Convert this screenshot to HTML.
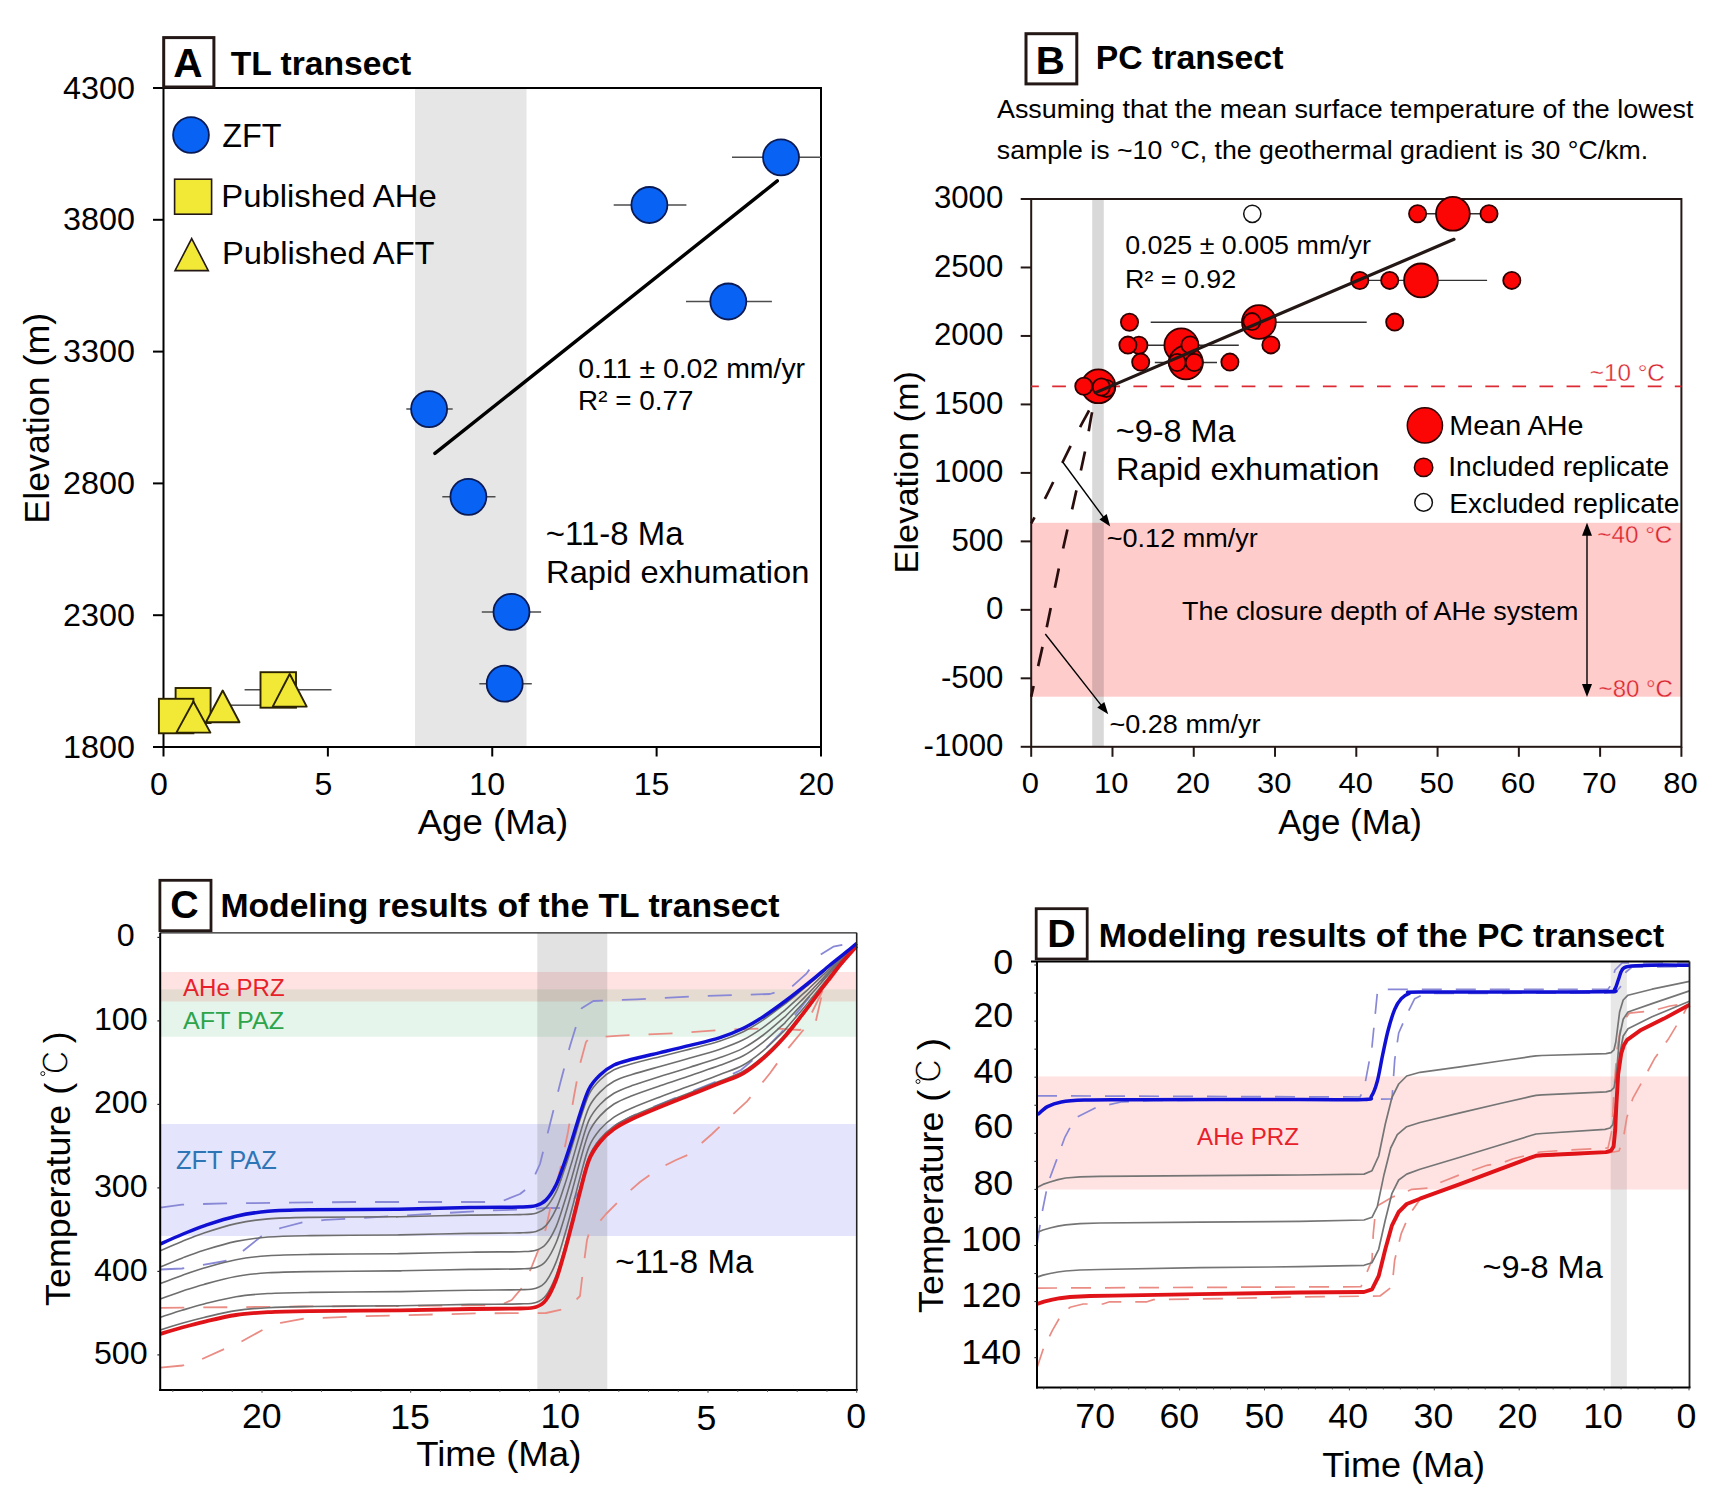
<!DOCTYPE html>
<html><head><meta charset="utf-8"><title>Figure</title>
<style>
html,body{margin:0;padding:0;background:#fff;}
svg{display:block;}
text{font-family:"Liberation Sans",sans-serif;}
</style></head><body>
<svg width="1736" height="1500" viewBox="0 0 1736 1500">
<rect x="0" y="0" width="1736" height="1500" fill="#ffffff"/>
<rect x="415.00" y="88.00" width="111.50" height="659.00" fill="#e6e6e6" stroke="none" stroke-width="1"/>
<rect x="163.50" y="88.00" width="657.50" height="659.00" fill="none" stroke="#000" stroke-width="2"/>
<line x1="153.00" y1="747.00" x2="163.50" y2="747.00" stroke="#000" stroke-width="2"/>
<text transform="translate(63.05,757.60) scale(1.0200,1)" font-size="31.7" fill="#000">1800</text>
<line x1="153.00" y1="615.20" x2="163.50" y2="615.20" stroke="#000" stroke-width="2"/>
<text transform="translate(63.05,625.80) scale(1.0200,1)" font-size="31.7" fill="#000">2300</text>
<line x1="153.00" y1="483.40" x2="163.50" y2="483.40" stroke="#000" stroke-width="2"/>
<text transform="translate(63.05,494.00) scale(1.0200,1)" font-size="31.7" fill="#000">2800</text>
<line x1="153.00" y1="351.60" x2="163.50" y2="351.60" stroke="#000" stroke-width="2"/>
<text transform="translate(63.05,362.20) scale(1.0200,1)" font-size="31.7" fill="#000">3300</text>
<line x1="153.00" y1="219.80" x2="163.50" y2="219.80" stroke="#000" stroke-width="2"/>
<text transform="translate(63.05,230.40) scale(1.0200,1)" font-size="31.7" fill="#000">3800</text>
<line x1="153.00" y1="88.00" x2="163.50" y2="88.00" stroke="#000" stroke-width="2"/>
<text transform="translate(63.05,98.60) scale(1.0200,1)" font-size="31.7" fill="#000">4300</text>
<line x1="163.50" y1="747.00" x2="163.50" y2="756.50" stroke="#000" stroke-width="2"/>
<text transform="translate(150.08,795.20) scale(1.0200,1)" font-size="31.5" fill="#000">0</text>
<line x1="327.88" y1="747.00" x2="327.88" y2="756.50" stroke="#000" stroke-width="2"/>
<text transform="translate(314.46,795.20) scale(1.0200,1)" font-size="31.5" fill="#000">5</text>
<line x1="492.25" y1="747.00" x2="492.25" y2="756.50" stroke="#000" stroke-width="2"/>
<text transform="translate(469.36,795.20) scale(1.0200,1)" font-size="31.5" fill="#000">10</text>
<line x1="656.62" y1="747.00" x2="656.62" y2="756.50" stroke="#000" stroke-width="2"/>
<text transform="translate(633.73,795.20) scale(1.0200,1)" font-size="31.5" fill="#000">15</text>
<line x1="821.00" y1="747.00" x2="821.00" y2="756.50" stroke="#000" stroke-width="2"/>
<text transform="translate(798.51,795.20) scale(1.0200,1)" font-size="31.5" fill="#000">20</text>
<text transform="translate(417.72,833.90) scale(1.0200,1)" font-size="35.87" fill="#000">Age (Ma)</text>
<text transform="translate(49.20,523.66) rotate(-90) scale(1.0200,1)" font-size="35.09" fill="#000">Elevation (m)</text>
<line x1="434.90" y1="453.40" x2="777.30" y2="180.90" stroke="#000" stroke-width="3.4" stroke-linecap="round"/>
<line x1="732.00" y1="157.30" x2="821.00" y2="157.30" stroke="#4d4d4d" stroke-width="1.5"/>
<line x1="613.70" y1="205.00" x2="686.40" y2="205.00" stroke="#4d4d4d" stroke-width="1.5"/>
<line x1="686.00" y1="301.50" x2="771.90" y2="301.50" stroke="#4d4d4d" stroke-width="1.5"/>
<line x1="406.30" y1="409.10" x2="452.70" y2="409.10" stroke="#4d4d4d" stroke-width="1.5"/>
<line x1="442.30" y1="496.80" x2="495.50" y2="496.80" stroke="#4d4d4d" stroke-width="1.5"/>
<line x1="481.80" y1="611.90" x2="541.10" y2="611.90" stroke="#4d4d4d" stroke-width="1.5"/>
<line x1="479.30" y1="683.70" x2="531.80" y2="683.70" stroke="#4d4d4d" stroke-width="1.5"/>
<circle cx="781.00" cy="157.30" r="18.00" fill="#0862f4" stroke="#0a1a55" stroke-width="1.8"/>
<circle cx="649.40" cy="205.00" r="18.00" fill="#0862f4" stroke="#0a1a55" stroke-width="1.8"/>
<circle cx="728.30" cy="301.50" r="18.00" fill="#0862f4" stroke="#0a1a55" stroke-width="1.8"/>
<circle cx="429.10" cy="409.10" r="18.00" fill="#0862f4" stroke="#0a1a55" stroke-width="1.8"/>
<circle cx="468.40" cy="496.80" r="18.00" fill="#0862f4" stroke="#0a1a55" stroke-width="1.8"/>
<circle cx="511.50" cy="611.90" r="18.00" fill="#0862f4" stroke="#0a1a55" stroke-width="1.8"/>
<circle cx="504.70" cy="683.70" r="18.00" fill="#0862f4" stroke="#0a1a55" stroke-width="1.8"/>
<line x1="231.00" y1="705.20" x2="262.00" y2="705.20" stroke="#4d4d4d" stroke-width="1.5"/>
<line x1="244.60" y1="689.70" x2="331.50" y2="689.70" stroke="#4d4d4d" stroke-width="1.5"/>
<rect x="175.60" y="688.00" width="35.00" height="35.00" fill="#f1e936" stroke="#2b2200" stroke-width="1.9"/>
<polygon points="222.70,690.50 239.50,722.30 205.90,722.30" fill="#f1e936" stroke="#2b2200" stroke-width="1.9" stroke-linejoin="round"/>
<rect x="158.90" y="698.80" width="34.50" height="34.50" fill="#f1e936" stroke="#2b2200" stroke-width="1.9"/>
<polygon points="193.40,701.50 210.40,732.60 176.40,732.60" fill="#f1e936" stroke="#2b2200" stroke-width="1.9" stroke-linejoin="round"/>
<rect x="260.50" y="672.20" width="35.50" height="35.50" fill="#f1e936" stroke="#2b2200" stroke-width="1.9"/>
<polygon points="289.70,674.00 306.70,706.60 272.70,706.60" fill="#f1e936" stroke="#2b2200" stroke-width="1.9" stroke-linejoin="round"/>
<circle cx="191.00" cy="135.00" r="17.90" fill="#0862f4" stroke="#0a1a55" stroke-width="1.8"/>
<rect x="174.60" y="179.20" width="37.00" height="35.00" fill="#f1e936" stroke="#231815" stroke-width="1.6"/>
<polygon points="191.70,238.60 208.30,270.60 175.00,270.60" fill="#f1e936" stroke="#231815" stroke-width="1.6"/>
<text transform="translate(222.13,146.70) scale(0.9631,1)" font-size="33.6" fill="#000">ZFT</text>
<text transform="translate(221.37,207.00) scale(1.0201,1)" font-size="32.19" fill="#000">Published AHe</text>
<text transform="translate(221.98,264.20) scale(1.0199,1)" font-size="32.07" fill="#000">Published AFT</text>
<text transform="translate(578.26,377.80) scale(1.0200,1)" font-size="27.89" fill="#000">0.11 ± 0.02 mm/yr</text>
<text transform="translate(578.07,410.20) scale(0.9988,1)" font-size="27.89" fill="#000">R² = 0.77</text>
<text transform="translate(545.82,544.60) scale(1.0199,1)" font-size="32.31" fill="#000">~11-8 Ma</text>
<text transform="translate(546.09,582.60) scale(1.0200,1)" font-size="32.03" fill="#000">Rapid exhumation</text>
<rect x="163.70" y="37.60" width="50.20" height="49.40" fill="#fff" stroke="#231815" stroke-width="3"/>
<text transform="translate(173.19,76.50) scale(1.0200,1)" font-size="39.8" font-weight="bold" fill="#000">A</text>
<text transform="translate(230.66,74.80) scale(1.0199,1)" font-size="32.99" font-weight="bold" fill="#000">TL transect</text>
<rect x="1031.20" y="522.80" width="650.20" height="173.90" fill="#ffcccc" stroke="none" stroke-width="1"/>
<rect x="1092.20" y="199.00" width="11.60" height="547.80" fill="#000" stroke="none" stroke-width="1" fill-opacity="0.15"/>
<rect x="1031.20" y="199.00" width="650.20" height="547.80" fill="none" stroke="#231815" stroke-width="2"/>
<line x1="1020.70" y1="199.00" x2="1031.20" y2="199.00" stroke="#231815" stroke-width="2"/>
<text transform="translate(933.90,208.20) scale(1.0200,1)" font-size="30.6" fill="#000">3000</text>
<line x1="1020.70" y1="267.48" x2="1031.20" y2="267.48" stroke="#231815" stroke-width="2"/>
<text transform="translate(933.90,276.68) scale(1.0200,1)" font-size="30.6" fill="#000">2500</text>
<line x1="1020.70" y1="335.95" x2="1031.20" y2="335.95" stroke="#231815" stroke-width="2"/>
<text transform="translate(933.90,345.15) scale(1.0200,1)" font-size="30.6" fill="#000">2000</text>
<line x1="1020.70" y1="404.42" x2="1031.20" y2="404.42" stroke="#231815" stroke-width="2"/>
<text transform="translate(933.90,413.62) scale(1.0200,1)" font-size="30.6" fill="#000">1500</text>
<line x1="1020.70" y1="472.90" x2="1031.20" y2="472.90" stroke="#231815" stroke-width="2"/>
<text transform="translate(933.90,482.10) scale(1.0200,1)" font-size="30.6" fill="#000">1000</text>
<line x1="1020.70" y1="541.38" x2="1031.20" y2="541.38" stroke="#231815" stroke-width="2"/>
<text transform="translate(951.38,550.58) scale(1.0200,1)" font-size="30.6" fill="#000">500</text>
<line x1="1020.70" y1="609.85" x2="1031.20" y2="609.85" stroke="#231815" stroke-width="2"/>
<text transform="translate(986.03,619.05) scale(1.0200,1)" font-size="30.6" fill="#000">0</text>
<line x1="1020.70" y1="678.32" x2="1031.20" y2="678.32" stroke="#231815" stroke-width="2"/>
<text transform="translate(940.92,687.52) scale(1.0200,1)" font-size="30.6" fill="#000">-500</text>
<line x1="1020.70" y1="746.80" x2="1031.20" y2="746.80" stroke="#231815" stroke-width="2"/>
<text transform="translate(923.60,756.00) scale(1.0200,1)" font-size="30.6" fill="#000">-1000</text>
<line x1="1031.20" y1="746.80" x2="1031.20" y2="756.80" stroke="#231815" stroke-width="2"/>
<text transform="translate(1021.82,792.70) scale(1.0200,1)" font-size="30.3" fill="#000">0</text>
<line x1="1112.48" y1="746.80" x2="1112.48" y2="756.80" stroke="#231815" stroke-width="2"/>
<text transform="translate(1093.98,792.70) scale(1.0200,1)" font-size="30.3" fill="#000">10</text>
<line x1="1193.75" y1="746.80" x2="1193.75" y2="756.80" stroke="#231815" stroke-width="2"/>
<text transform="translate(1175.64,792.70) scale(1.0200,1)" font-size="30.3" fill="#000">20</text>
<line x1="1275.03" y1="746.80" x2="1275.03" y2="756.80" stroke="#231815" stroke-width="2"/>
<text transform="translate(1257.07,792.70) scale(1.0200,1)" font-size="30.3" fill="#000">30</text>
<line x1="1356.30" y1="746.80" x2="1356.30" y2="756.80" stroke="#231815" stroke-width="2"/>
<text transform="translate(1338.58,792.70) scale(1.0200,1)" font-size="30.3" fill="#000">40</text>
<line x1="1437.58" y1="746.80" x2="1437.58" y2="756.80" stroke="#231815" stroke-width="2"/>
<text transform="translate(1419.62,792.70) scale(1.0200,1)" font-size="30.3" fill="#000">50</text>
<line x1="1518.85" y1="746.80" x2="1518.85" y2="756.80" stroke="#231815" stroke-width="2"/>
<text transform="translate(1500.74,792.70) scale(1.0200,1)" font-size="30.3" fill="#000">60</text>
<line x1="1600.12" y1="746.80" x2="1600.12" y2="756.80" stroke="#231815" stroke-width="2"/>
<text transform="translate(1582.02,792.70) scale(1.0200,1)" font-size="30.3" fill="#000">70</text>
<line x1="1681.40" y1="746.80" x2="1681.40" y2="756.80" stroke="#231815" stroke-width="2"/>
<text transform="translate(1663.37,792.70) scale(1.0200,1)" font-size="30.3" fill="#000">80</text>
<text transform="translate(1278.33,833.90) scale(1.0201,1)" font-size="34.22" fill="#000">Age (Ma)</text>
<text transform="translate(917.50,573.45) rotate(-90) scale(1.0200,1)" font-size="33.71" fill="#000">Elevation (m)</text>
<line x1="1031.20" y1="386.40" x2="1681.40" y2="386.40" stroke="#dc2a35" stroke-width="1.7" stroke-dasharray="13.7 13.37" stroke-dashoffset="6.07"/>
<text transform="translate(1589.81,380.70) scale(1.0199,1)" font-size="23.78" fill="#d9262f" stroke="#fff" stroke-width="0.35">~10 °C</text>
<path d="M1096.5,394.0C1095.3,396.7 1092.0,404.4 1089.3,410.0C1086.5,415.6 1084.4,418.6 1080.0,427.3C1075.6,436.0 1068.2,450.7 1062.7,462.0C1057.2,473.3 1052.0,485.1 1046.7,495.3C1041.5,505.5 1033.8,518.6 1031.2,523.3" fill="none" stroke="#2a0e0e" stroke-width="2.7" stroke-dasharray="19 21" stroke-linejoin="round" stroke-dashoffset="-18"/>
<path d="M1097.5,394.0C1096.6,397.1 1094.0,403.4 1092.0,412.7C1090.0,422.0 1088.2,435.8 1085.3,450.0C1082.4,464.2 1078.7,480.2 1074.7,498.0C1070.7,515.8 1066.2,534.0 1061.3,556.7C1056.4,579.4 1050.3,610.7 1045.3,634.0C1040.3,657.3 1033.5,686.2 1031.2,696.7" fill="none" stroke="#2a0e0e" stroke-width="2.7" stroke-dasharray="19.5 20.5" stroke-linejoin="round" stroke-dashoffset="-19"/>
<line x1="1417.00" y1="213.80" x2="1489.00" y2="213.80" stroke="#333" stroke-width="1.4"/>
<line x1="1360.00" y1="280.40" x2="1487.10" y2="280.40" stroke="#333" stroke-width="1.4"/>
<line x1="1150.70" y1="322.20" x2="1366.70" y2="322.20" stroke="#333" stroke-width="1.4"/>
<line x1="1144.40" y1="345.30" x2="1238.80" y2="345.30" stroke="#333" stroke-width="1.4"/>
<line x1="1154.80" y1="362.50" x2="1217.00" y2="362.50" stroke="#333" stroke-width="1.4"/>
<circle cx="1452.90" cy="213.80" r="16.90" fill="#fb0505" stroke="#2e0000" stroke-width="1.8"/>
<circle cx="1421.00" cy="280.40" r="16.90" fill="#fb0505" stroke="#2e0000" stroke-width="1.8"/>
<circle cx="1258.90" cy="322.00" r="16.90" fill="#fb0505" stroke="#2e0000" stroke-width="1.8"/>
<circle cx="1181.30" cy="345.30" r="16.90" fill="#fb0505" stroke="#2e0000" stroke-width="1.8"/>
<circle cx="1185.90" cy="362.50" r="16.90" fill="#fb0505" stroke="#2e0000" stroke-width="1.8"/>
<circle cx="1098.40" cy="386.30" r="16.90" fill="#fb0505" stroke="#2e0000" stroke-width="1.8"/>
<circle cx="1129.50" cy="322.30" r="8.60" fill="#fb0505" stroke="#2e0000" stroke-width="1.8"/>
<circle cx="1138.90" cy="345.20" r="8.60" fill="#fb0505" stroke="#2e0000" stroke-width="1.8"/>
<circle cx="1127.90" cy="345.10" r="8.60" fill="#fb0505" stroke="#2e0000" stroke-width="1.8"/>
<circle cx="1140.70" cy="362.10" r="8.60" fill="#fb0505" stroke="#2e0000" stroke-width="1.8"/>
<circle cx="1190.00" cy="344.90" r="8.60" fill="#fb0505" stroke="#2e0000" stroke-width="1.8"/>
<circle cx="1177.20" cy="362.50" r="8.60" fill="#fb0505" stroke="#2e0000" stroke-width="1.8"/>
<circle cx="1194.20" cy="362.50" r="8.60" fill="#fb0505" stroke="#2e0000" stroke-width="1.8"/>
<circle cx="1229.90" cy="362.10" r="8.60" fill="#fb0505" stroke="#2e0000" stroke-width="1.8"/>
<circle cx="1251.90" cy="321.60" r="8.60" fill="#fb0505" stroke="#2e0000" stroke-width="1.8"/>
<circle cx="1270.90" cy="344.90" r="8.60" fill="#fb0505" stroke="#2e0000" stroke-width="1.8"/>
<circle cx="1359.80" cy="280.50" r="8.60" fill="#fb0505" stroke="#2e0000" stroke-width="1.8"/>
<circle cx="1389.70" cy="280.40" r="8.60" fill="#fb0505" stroke="#2e0000" stroke-width="1.8"/>
<circle cx="1394.70" cy="322.10" r="8.60" fill="#fb0505" stroke="#2e0000" stroke-width="1.8"/>
<circle cx="1417.60" cy="213.80" r="8.60" fill="#fb0505" stroke="#2e0000" stroke-width="1.8"/>
<circle cx="1489.00" cy="213.80" r="8.60" fill="#fb0505" stroke="#2e0000" stroke-width="1.8"/>
<circle cx="1511.80" cy="280.40" r="8.60" fill="#fb0505" stroke="#2e0000" stroke-width="1.8"/>
<circle cx="1083.80" cy="386.30" r="8.60" fill="#fb0505" stroke="#2e0000" stroke-width="1.8"/>
<circle cx="1106.30" cy="388.40" r="8.60" fill="#fb0505" stroke="#2e0000" stroke-width="1.8"/>
<circle cx="1101.30" cy="387.00" r="8.60" fill="#fb0505" stroke="#2e0000" stroke-width="1.8"/>
<circle cx="1252.30" cy="213.80" r="8.60" fill="#fff" stroke="#111" stroke-width="1.5"/>
<line x1="1095.70" y1="392.60" x2="1454.00" y2="239.30" stroke="#231815" stroke-width="3.2" stroke-linecap="round"/>
<line x1="1062.70" y1="462.00" x2="1104.50" y2="518.67" stroke="#000" stroke-width="1.4"/>
<polygon points="1110.20,526.40 1099.46,519.41 1106.70,514.07" fill="#000" stroke="none" stroke-width="0"/>
<line x1="1045.30" y1="634.00" x2="1102.28" y2="706.65" stroke="#000" stroke-width="1.4"/>
<polygon points="1108.20,714.20 1097.25,707.53 1104.34,701.98" fill="#000" stroke="none" stroke-width="0"/>
<line x1="1587.00" y1="610.00" x2="1587.00" y2="533.20" stroke="#000" stroke-width="1.4"/>
<polygon points="1587.00,522.80 1592.00,535.80 1582.00,535.80" fill="#000" stroke="none" stroke-width="0"/>
<line x1="1587.00" y1="610.00" x2="1587.00" y2="686.60" stroke="#000" stroke-width="1.4"/>
<polygon points="1587.00,697.00 1582.00,684.00 1592.00,684.00" fill="#000" stroke="none" stroke-width="0"/>
<text transform="translate(1125.13,254.20) scale(1.0198,1)" font-size="26.31" fill="#000">0.025 ± 0.005 mm/yr</text>
<text transform="translate(1125.05,287.80) scale(1.0200,1)" font-size="26.31" fill="#000">R² = 0.92</text>
<text transform="translate(1115.84,441.80) scale(1.0199,1)" font-size="31.78" fill="#000">~9-8 Ma</text>
<text transform="translate(1116.09,479.80) scale(1.0201,1)" font-size="32.04" fill="#000">Rapid exhumation</text>
<text transform="translate(1106.78,546.80) scale(1.0199,1)" font-size="26.52" fill="#000">~0.12 mm/yr</text>
<text transform="translate(1109.48,732.70) scale(1.0199,1)" font-size="26.52" fill="#000">~0.28 mm/yr</text>
<text transform="translate(1182.03,620.00) scale(1.0199,1)" font-size="26.41" fill="#000">The closure depth of AHe system</text>
<circle cx="1424.90" cy="425.40" r="17.60" fill="#fb0505" stroke="#2a0505" stroke-width="1.5"/>
<circle cx="1423.60" cy="467.40" r="9.20" fill="#fb0505" stroke="#2a0505" stroke-width="1.5"/>
<circle cx="1423.60" cy="502.40" r="8.80" fill="#fff" stroke="#111" stroke-width="1.5"/>
<text transform="translate(1449.30,435.30) scale(1.0201,1)" font-size="28.17" fill="#000">Mean AHe</text>
<text transform="translate(1448.16,475.80) scale(1.0200,1)" font-size="27.68" fill="#000">Included replicate</text>
<text transform="translate(1449.25,513.00) scale(1.0199,1)" font-size="27.63" fill="#000">Excluded replicate</text>
<text transform="translate(1597.31,542.90) scale(1.0199,1)" font-size="23.78" fill="#d9262f" stroke="#ffcccc" stroke-width="0.35">~40 °C</text>
<text transform="translate(1598.62,696.90) scale(1.0200,1)" font-size="23.55" fill="#d9262f" stroke="#ffcccc" stroke-width="0.35">~80 °C</text>
<rect x="1026.00" y="33.70" width="50.80" height="50.20" fill="#fff" stroke="#231815" stroke-width="3"/>
<text transform="translate(1035.78,73.70) scale(1.0199,1)" font-size="39.54" font-weight="bold" fill="#000">B</text>
<text transform="translate(1095.81,68.70) scale(1.0199,1)" font-size="33.1" font-weight="bold" fill="#000">PC transect</text>
<text transform="translate(996.97,117.60) scale(1.0202,1)" font-size="26.37" fill="#000">Assuming that the mean surface temperature of the lowest</text>
<text transform="translate(996.80,158.90) scale(1.0202,1)" font-size="26.18" fill="#000">sample is ~10 °C, the geothermal gradient is 30 °C/km.</text>
<rect x="160.20" y="972.00" width="695.50" height="29.50" fill="#ff0000" stroke="none" stroke-width="1" fill-opacity="0.108"/>
<rect x="160.20" y="989.30" width="695.50" height="47.50" fill="#00a03c" stroke="none" stroke-width="1" fill-opacity="0.10"/>
<rect x="160.20" y="1124.00" width="695.50" height="112.00" fill="#0000e6" stroke="none" stroke-width="1" fill-opacity="0.105"/>
<rect x="537.30" y="932.80" width="70.00" height="457.20" fill="#000" stroke="none" stroke-width="1" fill-opacity="0.115"/>
<path d="M160.3,1207.7L182.0,1204.6L225.0,1203.4L353.0,1202.0L500.0,1202.0L520.0,1194.0L530.0,1186.0L540.0,1164.0L550.0,1124.0L560.0,1084.0L570.0,1046.0L578.0,1020.0L581.7,1008.3L593.3,1001.0L636.7,999.3L703.3,996.0L770.0,994.0L790.0,988.3L806.7,973.3L820.0,955.0L833.3,946.7L850.0,943.3L856.7,935.0" fill="none" stroke="#8888d6" stroke-width="1.8" stroke-dasharray="24 19" stroke-linejoin="round"/>
<path d="M160.3,1269.5L182.0,1268.5L225.3,1261.0L242.4,1251.4L262.6,1235.4L280.8,1228.0L304.2,1222.0L325.0,1219.9L391.7,1216.2L481.2,1210.9L520.0,1209.5L546.0,1208.0L568.0,1208.0L580.0,1190.0L587.0,1163.0L597.0,1143.0L611.0,1128.0L630.0,1117.0L658.0,1105.0L688.0,1093.0L718.0,1081.0L741.0,1070.0L760.0,1054.0L780.0,1034.0L800.0,1009.0L820.0,983.0L838.0,962.0L856.0,944.0" fill="none" stroke="#8888d6" stroke-width="1.8" stroke-dasharray="24 19" stroke-linejoin="round"/>
<path d="M160.3,1307.9L300.0,1306.5L500.0,1305.2L511.7,1300.0L523.0,1286.7L532.0,1266.0L540.0,1246.0L546.0,1228.0L552.0,1200.0L560.0,1170.0L568.0,1132.0L574.0,1096.0L580.0,1064.0L586.0,1042.0L590.0,1037.6L620.0,1035.6L680.0,1033.0L720.0,1030.0L770.0,1028.3L800.0,1030.0L806.7,1026.7L815.0,1025.0L817.0,1016.0L823.0,990.0L840.0,966.0L856.7,946.0" fill="none" stroke="#ea8c84" stroke-width="1.8" stroke-dasharray="24 19" stroke-linejoin="round"/>
<path d="M160.3,1367.6L182.7,1365.5L201.8,1359.1L242.4,1341.0L263.7,1329.3L280.8,1322.9L304.2,1318.6L353.3,1316.5L481.2,1313.3L546.0,1313.0L568.0,1308.0L580.0,1296.0L583.0,1270.0L587.0,1240.0L590.0,1230.0L594.0,1228.0L606.0,1214.0L624.0,1196.0L640.0,1182.0L658.0,1169.0L676.0,1160.0L690.0,1154.0L696.0,1148.0L712.0,1134.0L726.7,1120.0L746.7,1101.7L770.0,1073.3L786.7,1050.0L803.3,1030.0L823.0,990.0L840.0,966.0L856.7,946.0" fill="none" stroke="#ea8c84" stroke-width="1.8" stroke-dasharray="24 19" stroke-linejoin="round"/>
<path d="M160.3,1250.8C163.9,1249.2 174.7,1244.4 182.0,1241.5C189.3,1238.5 195.0,1236.0 204.0,1233.0C213.0,1230.0 225.3,1226.0 236.0,1223.6C246.7,1221.3 255.6,1219.9 268.0,1218.9C280.4,1217.8 289.3,1217.7 310.6,1217.4C331.9,1217.1 381.0,1216.9 395.9,1216.8C410.8,1216.7 387.6,1217.0 400.0,1216.7C412.4,1216.4 450.0,1215.5 470.0,1215.1C490.0,1214.8 509.0,1214.9 520.0,1214.6C531.0,1214.3 531.7,1214.4 536.0,1213.2C540.3,1212.0 542.7,1211.0 546.0,1207.5C549.3,1204.0 553.0,1198.2 556.0,1192.1C559.0,1186.0 561.3,1178.4 564.0,1170.8C566.7,1163.1 569.3,1154.8 572.0,1146.3C574.7,1137.8 577.2,1128.5 580.0,1119.8C582.8,1111.2 585.7,1101.0 589.0,1094.3C592.3,1087.7 595.8,1084.1 600.0,1080.0C604.2,1075.9 608.7,1072.5 614.0,1069.8C619.3,1067.1 624.3,1066.0 632.0,1063.8C639.7,1061.6 650.3,1059.1 660.0,1056.7C669.7,1054.2 680.0,1051.7 690.0,1049.1C700.0,1046.5 711.1,1043.9 720.0,1041.0C728.9,1038.1 736.1,1035.2 743.3,1031.7C750.5,1028.1 756.6,1024.2 763.3,1019.8C770.0,1015.4 779.4,1008.0 783.3,1005.1C787.2,1002.2 783.4,1005.3 786.7,1002.6C790.0,999.9 799.4,992.1 803.3,988.9C807.2,985.7 806.7,986.3 810.0,983.4C813.3,980.5 820.0,974.7 823.3,971.8C826.6,968.9 827.2,968.3 830.0,966.0C832.8,963.6 837.2,959.9 840.0,957.6C842.8,955.3 843.9,954.5 846.7,952.1C849.5,949.8 855.0,944.9 856.7,943.5" fill="none" stroke="#6e6e6e" stroke-width="1.6" stroke-linejoin="round"/>
<path d="M160.3,1267.0C163.9,1265.5 174.7,1261.0 182.0,1258.2C189.3,1255.4 195.0,1253.1 204.0,1250.3C213.0,1247.5 225.3,1243.6 236.0,1241.4C246.7,1239.2 255.6,1238.0 268.0,1237.0C280.4,1236.1 289.3,1236.0 310.6,1235.6C331.9,1235.3 381.0,1235.1 395.9,1235.0C410.8,1234.9 387.6,1235.2 400.0,1234.9C412.4,1234.6 450.0,1233.7 470.0,1233.4C490.0,1233.0 509.0,1233.2 520.0,1232.9C531.0,1232.6 531.7,1232.7 536.0,1231.5C540.3,1230.2 542.7,1229.2 546.0,1225.5C549.3,1221.8 553.0,1215.6 556.0,1209.2C559.0,1202.8 561.3,1194.9 564.0,1187.0C566.7,1179.0 569.3,1170.3 572.0,1161.4C574.7,1152.6 577.2,1142.9 580.0,1133.9C582.8,1124.8 585.7,1114.1 589.0,1107.1C592.3,1100.1 595.8,1096.4 600.0,1092.1C604.2,1087.8 608.7,1084.2 614.0,1081.3C619.3,1078.4 624.3,1077.0 632.0,1074.5C639.7,1072.0 650.3,1069.2 660.0,1066.5C669.7,1063.7 680.0,1060.9 690.0,1058.0C700.0,1055.2 711.1,1052.2 720.0,1049.2C728.9,1046.1 736.1,1043.4 743.3,1039.8C750.5,1036.1 756.6,1032.0 763.3,1027.3C770.0,1022.6 779.4,1014.7 783.3,1011.6C787.2,1008.5 783.4,1011.7 786.7,1008.7C790.0,1005.7 799.4,997.2 803.3,993.7C807.2,990.1 806.7,990.6 810.0,987.5C813.3,984.3 820.0,977.9 823.3,974.7C826.6,971.5 827.2,970.9 830.0,968.3C832.8,965.7 837.2,961.6 840.0,959.1C842.8,956.5 843.9,955.7 846.7,953.1C849.5,950.6 855.0,945.5 856.7,944.0" fill="none" stroke="#6e6e6e" stroke-width="1.6" stroke-linejoin="round"/>
<path d="M160.3,1283.6C163.9,1282.2 174.7,1278.0 182.0,1275.4C189.3,1272.8 195.0,1270.7 204.0,1268.0C213.0,1265.4 225.3,1261.7 236.0,1259.7C246.7,1257.6 255.6,1256.6 268.0,1255.7C280.4,1254.8 289.3,1254.7 310.6,1254.4C331.9,1254.0 381.0,1253.8 395.9,1253.7C410.8,1253.6 387.6,1253.9 400.0,1253.6C412.4,1253.4 450.0,1252.5 470.0,1252.2C490.0,1251.8 509.0,1252.0 520.0,1251.7C531.0,1251.3 531.7,1251.5 536.0,1250.2C540.3,1248.9 542.7,1247.9 546.0,1244.0C549.3,1240.1 553.0,1233.5 556.0,1226.8C559.0,1220.1 561.3,1211.9 564.0,1203.6C566.7,1195.3 569.3,1186.2 572.0,1177.0C574.7,1167.7 577.2,1157.8 580.0,1148.3C582.8,1138.9 585.7,1127.5 589.0,1120.2C592.3,1112.9 595.8,1109.0 600.0,1104.5C604.2,1100.0 608.7,1096.3 614.0,1093.2C619.3,1090.0 624.3,1088.3 632.0,1085.6C639.7,1082.8 650.3,1079.6 660.0,1076.5C669.7,1073.5 680.0,1070.4 690.0,1067.2C700.0,1064.1 711.1,1060.8 720.0,1057.6C728.9,1054.4 736.1,1051.9 743.3,1048.1C750.5,1044.3 756.6,1040.0 763.3,1035.0C770.0,1030.0 779.4,1021.5 783.3,1018.2C787.2,1014.9 783.4,1018.3 786.7,1015.0C790.0,1011.7 799.4,1002.4 803.3,998.6C807.2,994.7 806.7,995.2 810.0,991.7C813.3,988.2 820.0,981.2 823.3,977.7C826.6,974.2 827.2,973.6 830.0,970.7C832.8,967.9 837.2,963.3 840.0,960.5C842.8,957.8 843.9,956.9 846.7,954.2C849.5,951.5 855.0,946.1 856.7,944.5" fill="none" stroke="#6e6e6e" stroke-width="1.6" stroke-linejoin="round"/>
<path d="M160.3,1298.9C163.9,1297.6 174.7,1293.7 182.0,1291.2C189.3,1288.8 195.0,1286.8 204.0,1284.4C213.0,1281.9 225.3,1278.4 236.0,1276.5C246.7,1274.5 255.6,1273.7 268.0,1272.8C280.4,1272.0 289.3,1271.9 310.6,1271.6C331.9,1271.3 381.0,1271.0 395.9,1270.9C410.8,1270.8 387.6,1271.1 400.0,1270.8C412.4,1270.6 450.0,1269.7 470.0,1269.4C490.0,1269.1 509.0,1269.2 520.0,1268.9C531.0,1268.6 531.7,1268.8 536.0,1267.5C540.3,1266.1 542.7,1265.1 546.0,1261.0C549.3,1256.9 553.0,1250.0 556.0,1243.0C559.0,1235.9 561.3,1227.5 564.0,1218.9C566.7,1210.3 569.3,1200.8 572.0,1191.2C574.7,1181.7 577.2,1171.4 580.0,1161.6C582.8,1151.8 585.7,1139.9 589.0,1132.3C592.3,1124.7 595.8,1120.6 600.0,1115.9C604.2,1111.2 608.7,1107.4 614.0,1104.0C619.3,1100.7 624.3,1098.8 632.0,1095.7C639.7,1092.7 650.3,1089.1 660.0,1085.8C669.7,1082.4 680.0,1079.1 690.0,1075.7C700.0,1072.2 711.1,1068.6 720.0,1065.3C728.9,1062.0 736.1,1059.6 743.3,1055.8C750.5,1051.9 756.6,1047.3 763.3,1042.1C770.0,1036.8 779.4,1027.9 783.3,1024.3C787.2,1020.8 783.4,1024.3 786.7,1020.8C790.0,1017.2 799.4,1007.2 803.3,1003.0C807.2,998.8 806.7,999.3 810.0,995.5C813.3,991.8 820.0,984.2 823.3,980.4C826.6,976.6 827.2,976.0 830.0,972.9C832.8,969.8 837.2,964.9 840.0,961.9C842.8,958.9 843.9,958.0 846.7,955.2C849.5,952.3 855.0,946.6 856.7,944.9" fill="none" stroke="#6e6e6e" stroke-width="1.6" stroke-linejoin="round"/>
<path d="M160.3,1317.3C163.9,1316.2 174.7,1312.5 182.0,1310.3C189.3,1308.1 195.0,1306.3 204.0,1304.0C213.0,1301.8 225.3,1298.5 236.0,1296.7C246.7,1295.0 255.6,1294.3 268.0,1293.5C280.4,1292.8 289.3,1292.7 310.6,1292.4C331.9,1292.0 381.0,1291.8 395.9,1291.6C410.8,1291.5 387.6,1291.8 400.0,1291.6C412.4,1291.3 450.0,1290.5 470.0,1290.2C490.0,1289.9 509.0,1290.1 520.0,1289.7C531.0,1289.4 531.7,1289.6 536.0,1288.2C540.3,1286.9 542.7,1285.8 546.0,1281.5C549.3,1277.2 553.0,1269.8 556.0,1262.4C559.0,1255.1 561.3,1246.3 564.0,1237.3C566.7,1228.4 569.3,1218.4 572.0,1208.5C574.7,1198.5 577.2,1187.8 580.0,1177.6C582.8,1167.3 585.7,1154.9 589.0,1146.9C592.3,1138.9 595.8,1134.6 600.0,1129.6C604.2,1124.7 608.7,1120.8 614.0,1117.2C619.3,1113.6 624.3,1111.3 632.0,1108.0C639.7,1104.6 650.3,1100.6 660.0,1096.9C669.7,1093.2 680.0,1089.5 690.0,1085.8C700.0,1082.1 711.1,1078.1 720.0,1074.6C728.9,1071.1 736.1,1069.0 743.3,1065.0C750.5,1061.0 756.6,1056.2 763.3,1050.6C770.0,1045.1 779.4,1035.5 783.3,1031.7C787.2,1027.9 783.4,1031.6 786.7,1027.8C790.0,1023.9 799.4,1013.0 803.3,1008.4C807.2,1003.8 806.7,1004.3 810.0,1000.2C813.3,996.1 820.0,987.8 823.3,983.7C826.6,979.6 827.2,979.0 830.0,975.6C832.8,972.2 837.2,966.7 840.0,963.5C842.8,960.3 843.9,959.3 846.7,956.3C849.5,953.3 855.0,947.3 856.7,945.5" fill="none" stroke="#6e6e6e" stroke-width="1.6" stroke-linejoin="round"/>
<path d="M160.3,1330.0C163.9,1328.8 174.7,1325.4 182.0,1323.3C189.3,1321.2 195.0,1319.6 204.0,1317.5C213.0,1315.4 225.3,1312.2 236.0,1310.6C246.7,1308.9 255.6,1308.3 268.0,1307.7C280.4,1307.0 289.3,1306.9 310.6,1306.5C331.9,1306.2 381.0,1305.9 395.9,1305.8C410.8,1305.7 387.6,1306.0 400.0,1305.7C412.4,1305.5 450.0,1304.7 470.0,1304.4C490.0,1304.1 509.0,1304.3 520.0,1303.9C531.0,1303.6 531.7,1303.8 536.0,1302.4C540.3,1301.0 542.7,1300.0 546.0,1295.5C549.3,1291.0 553.0,1283.3 556.0,1275.7C559.0,1268.1 561.3,1259.2 564.0,1250.0C566.7,1240.7 569.3,1230.5 572.0,1220.2C574.7,1210.0 577.2,1199.1 580.0,1188.5C582.8,1177.9 585.7,1165.1 589.0,1156.8C592.3,1148.6 595.8,1144.1 600.0,1139.0C604.2,1133.9 608.7,1129.9 614.0,1126.1C619.3,1122.3 624.3,1119.9 632.0,1116.3C639.7,1112.7 650.3,1108.5 660.0,1104.6C669.7,1100.6 680.0,1096.7 690.0,1092.8C700.0,1088.8 711.1,1084.5 720.0,1081.0C728.9,1077.4 736.1,1075.4 743.3,1071.3C750.5,1067.2 756.6,1062.2 763.3,1056.4C770.0,1050.7 779.4,1040.7 783.3,1036.7C787.2,1032.7 783.4,1036.6 786.7,1032.5C790.0,1028.4 799.4,1017.0 803.3,1012.1C807.2,1007.3 806.7,1007.7 810.0,1003.4C813.3,999.0 820.0,990.3 823.3,986.0C826.6,981.6 827.2,981.0 830.0,977.4C832.8,973.9 837.2,968.0 840.0,964.6C842.8,961.3 843.9,960.2 846.7,957.1C849.5,954.0 855.0,947.8 856.7,945.9" fill="none" stroke="#6e6e6e" stroke-width="1.6" stroke-linejoin="round"/>
<path d="M160.3,1334.0C163.9,1332.9 174.7,1329.5 182.0,1327.5C189.3,1325.5 195.0,1323.9 204.0,1321.8C213.0,1319.7 225.3,1316.6 236.0,1315.0C246.7,1313.4 255.6,1312.9 268.0,1312.2C280.4,1311.5 288.6,1311.4 310.6,1311.1C332.6,1310.8 373.4,1310.6 400.0,1310.3C426.6,1310.0 450.0,1309.3 470.0,1309.0C490.0,1308.7 509.0,1308.8 520.0,1308.5C531.0,1308.2 531.7,1308.4 536.0,1307.0C540.3,1305.6 542.7,1304.5 546.0,1300.0C549.3,1295.5 553.0,1287.7 556.0,1280.0C559.0,1272.3 561.3,1263.3 564.0,1254.0C566.7,1244.7 569.3,1234.3 572.0,1224.0C574.7,1213.7 577.2,1202.7 580.0,1192.0C582.8,1181.3 585.7,1168.3 589.0,1160.0C592.3,1151.7 595.8,1147.2 600.0,1142.0C604.2,1136.8 608.7,1132.8 614.0,1129.0C619.3,1125.2 624.3,1122.7 632.0,1119.0C639.7,1115.3 650.3,1111.0 660.0,1107.0C669.7,1103.0 680.0,1099.0 690.0,1095.0C700.0,1091.0 711.1,1086.6 720.0,1083.0C728.9,1079.4 736.1,1077.4 743.3,1073.3C750.5,1069.2 756.6,1064.1 763.3,1058.3C770.0,1052.5 776.6,1045.8 783.3,1038.3C790.0,1030.8 796.6,1021.9 803.3,1013.3C810.0,1004.7 817.2,994.8 823.3,986.7C829.4,978.7 834.4,971.8 840.0,965.0C845.6,958.2 853.9,949.2 856.7,946.0" fill="none" stroke="#e01418" stroke-width="3.8" stroke-linejoin="round"/>
<path d="M160.3,1244.0C163.9,1242.4 174.7,1237.5 182.0,1234.5C189.3,1231.5 195.0,1228.8 204.0,1225.8C213.0,1222.8 225.3,1218.6 236.0,1216.2C246.7,1213.8 255.6,1212.4 268.0,1211.3C280.4,1210.2 289.3,1210.1 310.6,1209.8C331.9,1209.5 369.3,1209.6 395.9,1209.2C422.5,1208.8 449.3,1207.9 470.0,1207.5C490.7,1207.1 509.0,1207.3 520.0,1207.0C531.0,1206.7 531.7,1206.8 536.0,1205.6C540.3,1204.4 542.7,1203.4 546.0,1200.0C549.3,1196.6 553.0,1191.0 556.0,1185.0C559.0,1179.0 561.3,1171.5 564.0,1164.0C566.7,1156.5 569.3,1148.3 572.0,1140.0C574.7,1131.7 577.2,1122.5 580.0,1114.0C582.8,1105.5 585.7,1095.5 589.0,1089.0C592.3,1082.5 595.8,1079.0 600.0,1075.0C604.2,1071.0 608.7,1067.6 614.0,1065.0C619.3,1062.4 624.3,1061.4 632.0,1059.3C639.7,1057.2 650.3,1054.9 660.0,1052.6C669.7,1050.3 680.0,1047.9 690.0,1045.4C700.0,1042.9 711.1,1040.4 720.0,1037.6C728.9,1034.8 736.1,1031.8 743.3,1028.3C750.5,1024.8 756.1,1021.4 763.3,1016.7C770.5,1012.0 778.9,1005.8 786.7,1000.0C794.5,994.2 802.8,987.5 810.0,981.7C817.2,975.9 823.9,970.0 830.0,965.0C836.1,960.0 842.2,955.3 846.7,951.7C851.2,948.1 855.0,944.7 856.7,943.3" fill="none" stroke="#1010d4" stroke-width="3.5" stroke-linejoin="round"/>
<line x1="160.20" y1="932.80" x2="856.70" y2="932.80" stroke="#222" stroke-width="1.2"/>
<line x1="856.70" y1="932.80" x2="856.70" y2="1390.00" stroke="#222" stroke-width="1.6"/>
<line x1="160.20" y1="932.80" x2="160.20" y2="1391.00" stroke="#000" stroke-width="2"/>
<line x1="159.20" y1="1390.00" x2="857.70" y2="1390.00" stroke="#000" stroke-width="2"/>
<line x1="157.40" y1="937.40" x2="160.20" y2="937.40" stroke="#222" stroke-width="1.2"/>
<line x1="157.40" y1="1020.90" x2="160.20" y2="1020.90" stroke="#222" stroke-width="1.2"/>
<line x1="157.40" y1="1104.40" x2="160.20" y2="1104.40" stroke="#222" stroke-width="1.2"/>
<line x1="157.40" y1="1187.90" x2="160.20" y2="1187.90" stroke="#222" stroke-width="1.2"/>
<line x1="157.40" y1="1271.40" x2="160.20" y2="1271.40" stroke="#222" stroke-width="1.2"/>
<line x1="157.40" y1="1354.90" x2="160.20" y2="1354.90" stroke="#222" stroke-width="1.2"/>
<line x1="856.70" y1="1390.00" x2="856.70" y2="1392.80" stroke="#444" stroke-width="1.0"/>
<line x1="826.97" y1="1390.00" x2="826.97" y2="1391.80" stroke="#444" stroke-width="1.0"/>
<line x1="797.23" y1="1390.00" x2="797.23" y2="1391.80" stroke="#444" stroke-width="1.0"/>
<line x1="767.50" y1="1390.00" x2="767.50" y2="1391.80" stroke="#444" stroke-width="1.0"/>
<line x1="737.76" y1="1390.00" x2="737.76" y2="1391.80" stroke="#444" stroke-width="1.0"/>
<line x1="708.03" y1="1390.00" x2="708.03" y2="1392.80" stroke="#444" stroke-width="1.0"/>
<line x1="678.29" y1="1390.00" x2="678.29" y2="1391.80" stroke="#444" stroke-width="1.0"/>
<line x1="648.56" y1="1390.00" x2="648.56" y2="1391.80" stroke="#444" stroke-width="1.0"/>
<line x1="618.82" y1="1390.00" x2="618.82" y2="1391.80" stroke="#444" stroke-width="1.0"/>
<line x1="589.09" y1="1390.00" x2="589.09" y2="1391.80" stroke="#444" stroke-width="1.0"/>
<line x1="559.35" y1="1390.00" x2="559.35" y2="1392.80" stroke="#444" stroke-width="1.0"/>
<line x1="529.62" y1="1390.00" x2="529.62" y2="1391.80" stroke="#444" stroke-width="1.0"/>
<line x1="499.88" y1="1390.00" x2="499.88" y2="1391.80" stroke="#444" stroke-width="1.0"/>
<line x1="470.15" y1="1390.00" x2="470.15" y2="1391.80" stroke="#444" stroke-width="1.0"/>
<line x1="440.41" y1="1390.00" x2="440.41" y2="1391.80" stroke="#444" stroke-width="1.0"/>
<line x1="410.68" y1="1390.00" x2="410.68" y2="1392.80" stroke="#444" stroke-width="1.0"/>
<line x1="380.94" y1="1390.00" x2="380.94" y2="1391.80" stroke="#444" stroke-width="1.0"/>
<line x1="351.21" y1="1390.00" x2="351.21" y2="1391.80" stroke="#444" stroke-width="1.0"/>
<line x1="321.47" y1="1390.00" x2="321.47" y2="1391.80" stroke="#444" stroke-width="1.0"/>
<line x1="291.74" y1="1390.00" x2="291.74" y2="1391.80" stroke="#444" stroke-width="1.0"/>
<line x1="262.00" y1="1390.00" x2="262.00" y2="1392.80" stroke="#444" stroke-width="1.0"/>
<line x1="232.27" y1="1390.00" x2="232.27" y2="1391.80" stroke="#444" stroke-width="1.0"/>
<line x1="202.53" y1="1390.00" x2="202.53" y2="1391.80" stroke="#444" stroke-width="1.0"/>
<line x1="172.80" y1="1390.00" x2="172.80" y2="1391.80" stroke="#444" stroke-width="1.0"/>
<text transform="translate(116.80,946.30) scale(1.0200,1)" font-size="31.6" fill="#000">0</text>
<text transform="translate(93.92,1029.85) scale(1.0200,1)" font-size="31.6" fill="#000">100</text>
<text transform="translate(93.92,1113.40) scale(1.0200,1)" font-size="31.6" fill="#000">200</text>
<text transform="translate(93.92,1196.95) scale(1.0200,1)" font-size="31.6" fill="#000">300</text>
<text transform="translate(93.92,1280.50) scale(1.0200,1)" font-size="31.6" fill="#000">400</text>
<text transform="translate(93.92,1364.05) scale(1.0200,1)" font-size="31.6" fill="#000">500</text>
<text transform="translate(241.91,1428.40) scale(1.0200,1)" font-size="35" fill="#000">20</text>
<text transform="translate(390.16,1428.80) scale(1.0200,1)" font-size="35" fill="#000">15</text>
<text transform="translate(540.46,1427.90) scale(1.0200,1)" font-size="35" fill="#000">10</text>
<text transform="translate(696.39,1429.60) scale(1.0200,1)" font-size="35" fill="#000">5</text>
<text transform="translate(846.19,1427.50) scale(1.0200,1)" font-size="35" fill="#000">0</text>
<text transform="translate(416.19,1465.90) scale(1.0200,1)" font-size="35.83" fill="#000">Time (Ma)</text>
<text transform="translate(70.00,1305.90) rotate(-90) scale(1.0200,1)" font-size="35.13" fill="#000">Temperature (</text>
<text transform="translate(68.30,1074.22) rotate(-90) scale(0.8995,1)" font-size="36" fill="#000" stroke="#fff" stroke-width="1.1">C</text>
<circle cx="42.8" cy="1073.6" r="2.0" fill="none" stroke="#000" stroke-width="0.9"/>
<text transform="translate(68.50,1043.15) rotate(-90) scale(1.0200,1)" font-size="34.69" fill="#000">)</text>
<text transform="translate(183.08,996.30) scale(1.0200,1)" font-size="23.59" fill="#e8202a">AHe PRZ</text>
<text transform="translate(183.07,1029.20) scale(1.0201,1)" font-size="24.65" fill="#2da44a">AFT PAZ</text>
<text transform="translate(175.94,1168.70) scale(1.0199,1)" font-size="24.99" fill="#2e75b6">ZFT PAZ</text>
<text transform="translate(615.21,1273.30) scale(1.0199,1)" font-size="32.43" fill="#000">~11-8 Ma</text>
<rect x="159.90" y="880.30" width="51.10" height="50.40" fill="#fff" stroke="#231815" stroke-width="2.8"/>
<text transform="translate(170.32,917.70) scale(1.0199,1)" font-size="38.62" font-weight="bold" fill="#000">C</text>
<text transform="translate(220.41,916.90) scale(1.0200,1)" font-size="33.03" font-weight="bold" fill="#000">Modeling results of the TL transect</text>
<rect x="1037.00" y="1076.40" width="651.50" height="113.10" fill="#ff0000" stroke="none" stroke-width="1" fill-opacity="0.108"/>
<rect x="1610.70" y="961.50" width="16.20" height="426.10" fill="#000" stroke="none" stroke-width="1" fill-opacity="0.095"/>
<path d="M1037.0,1095.8L1360.0,1097.0L1364.0,1089.0L1372.0,1046.7L1377.3,993.3L1378.7,989.3L1608.0,989.3L1611.0,985.0L1615.0,970.0L1622.0,963.0L1689.0,963.0" fill="none" stroke="#8888d6" stroke-width="1.7" stroke-dasharray="20 14" stroke-linejoin="round"/>
<path d="M1037.0,1244.6L1041.4,1216.0L1048.0,1183.0L1056.7,1159.6L1064.7,1137.7L1075.1,1118.1L1095.9,1107.7L1121.2,1102.0L1153.5,1100.5L1392.0,1099.0L1394.7,1060.0L1398.7,1033.0L1406.7,1014.7L1414.7,998.7L1425.0,993.5L1615.0,993.0L1622.0,985.0L1626.0,972.0L1632.0,967.0L1689.0,966.5" fill="none" stroke="#8888d6" stroke-width="1.7" stroke-dasharray="20 14" stroke-linejoin="round"/>
<path d="M1037.0,1288.1L1361.0,1286.7L1372.0,1260.0L1373.3,1233.3L1376.0,1206.7L1382.7,1202.7L1392.0,1197.3L1412.0,1189.3L1428.0,1188.0L1433.0,1185.3L1460.0,1174.7L1487.0,1165.3L1502.7,1162.7L1513.0,1158.7L1540.0,1152.0L1568.0,1150.0L1608.0,1148.0L1612.0,1130.0L1614.0,1090.0L1617.0,1050.0L1621.0,1025.0L1629.2,1013.2L1652.0,1010.8L1670.0,1006.0L1689.0,1003.0" fill="none" stroke="#ea8c84" stroke-width="1.7" stroke-dasharray="20 14" stroke-linejoin="round"/>
<path d="M1037.0,1367.8L1043.6,1348.0L1052.4,1330.4L1061.2,1315.0L1070.0,1307.3L1083.2,1304.0L1103.0,1304.0L1109.6,1301.8L1147.0,1301.8L1153.6,1299.6L1200.0,1299.0L1300.0,1297.0L1380.0,1296.0L1392.0,1286.7L1394.7,1260.0L1401.3,1233.3L1409.3,1214.7L1420.0,1199.5L1460.0,1185.0L1500.0,1170.0L1536.0,1156.5L1608.0,1153.0L1619.0,1151.0L1623.2,1139.2L1626.8,1117.6L1632.8,1098.4L1644.8,1076.8L1654.4,1058.8L1668.8,1038.4L1683.2,1014.4L1689.0,1003.6" fill="none" stroke="#ea8c84" stroke-width="1.7" stroke-dasharray="20 14" stroke-linejoin="round"/>
<path d="M1037.0,1187.4L1043.0,1184.4L1050.0,1182.0L1058.0,1179.6L1065.6,1178.0L1080.0,1176.9L1100.0,1176.3L1200.0,1175.6L1300.0,1175.0L1364.0,1174.1L1372.0,1170.7L1378.7,1156.0L1385.3,1124.0L1392.0,1097.3L1398.7,1084.0L1406.7,1076.0L1420.0,1072.3L1460.0,1066.9L1500.0,1061.0L1530.0,1056.7L1536.0,1055.8L1542.0,1055.5L1606.0,1053.7L1611.0,1052.6L1614.0,1049.8L1615.8,1042.0L1617.2,1031.2L1619.6,1012.0L1623.2,1000.0L1628.0,995.2L1652.0,989.2L1689.5,981.3" fill="none" stroke="#757575" stroke-width="1.7" stroke-linejoin="round"/>
<path d="M1037.0,1232.5L1043.0,1230.0L1050.0,1228.0L1058.0,1226.1L1065.6,1224.8L1080.0,1223.6L1100.0,1223.0L1200.0,1222.2L1300.0,1221.3L1364.0,1220.0L1372.0,1217.3L1377.3,1206.7L1384.0,1174.7L1390.7,1148.0L1397.3,1134.7L1406.7,1126.7L1420.0,1122.5L1460.0,1112.8L1500.0,1103.5L1530.0,1096.7L1536.0,1095.3L1542.0,1094.9L1606.0,1091.8L1611.0,1090.6L1614.0,1087.6L1615.8,1078.0L1617.2,1064.8L1619.6,1036.0L1623.2,1019.2L1628.0,1012.0L1652.0,1003.6L1689.5,990.9" fill="none" stroke="#757575" stroke-width="1.7" stroke-linejoin="round"/>
<path d="M1037.0,1277.1L1043.0,1275.1L1050.0,1273.5L1058.0,1272.0L1065.6,1271.0L1080.0,1270.0L1100.0,1269.5L1200.0,1267.7L1300.0,1266.7L1364.0,1265.3L1372.0,1262.7L1378.7,1249.3L1385.3,1220.0L1392.0,1193.3L1398.7,1180.0L1406.7,1174.1L1420.0,1169.3L1460.0,1157.3L1500.0,1145.0L1530.0,1135.8L1536.0,1134.0L1542.0,1133.5L1605.0,1129.4L1610.0,1128.0L1612.8,1124.6L1614.8,1112.0L1616.5,1096.0L1619.6,1055.2L1623.2,1036.0L1628.0,1028.8L1652.0,1016.8L1689.5,1001.2" fill="none" stroke="#757575" stroke-width="1.7" stroke-linejoin="round"/>
<path d="M1037.0,1304.0L1044.0,1301.6L1052.4,1299.6L1060.0,1298.2L1070.0,1297.0L1090.0,1296.0L1114.0,1295.6L1200.0,1294.1L1300.0,1292.5L1364.0,1292.0L1372.0,1289.3L1378.7,1276.0L1385.3,1249.3L1392.0,1225.3L1398.7,1212.0L1406.7,1204.0L1420.0,1198.7L1460.0,1184.1L1500.0,1169.1L1530.0,1157.9L1536.0,1155.8L1542.0,1155.3L1568.0,1154.0L1606.0,1152.1L1611.0,1150.6L1613.6,1146.5L1615.2,1130.0L1616.4,1104.0L1618.2,1074.0L1621.2,1053.6L1624.0,1045.0L1627.2,1039.8L1640.0,1030.6L1664.0,1018.6L1689.5,1004.8" fill="none" stroke="#e01418" stroke-width="3.9" stroke-linejoin="round"/>
<path d="M1037.6,1114.7C1039.2,1113.3 1043.5,1108.7 1047.5,1106.6C1051.5,1104.5 1055.2,1103.1 1061.3,1102.0C1067.4,1100.9 1072.8,1100.5 1084.3,1100.1C1095.8,1099.7 1094.5,1099.8 1130.4,1099.7C1166.4,1099.6 1261.1,1099.5 1300.0,1099.5C1338.9,1099.5 1352.1,1100.1 1364.0,1099.5C1375.9,1098.9 1369.3,1099.0 1371.5,1096.0C1373.7,1093.0 1375.4,1088.2 1377.3,1081.3C1379.2,1074.4 1380.9,1063.1 1382.7,1054.7C1384.5,1046.3 1386.0,1038.3 1388.0,1030.7C1390.0,1023.1 1392.5,1014.6 1394.7,1009.3C1396.9,1004.0 1398.9,1001.4 1401.3,998.7C1403.7,996.0 1406.2,994.4 1409.3,993.3C1412.4,992.2 1398.2,992.2 1420.0,992.0C1441.8,991.8 1508.5,992.1 1540.0,992.0C1571.5,991.9 1596.3,992.1 1608.8,991.6C1621.3,991.1 1613.2,991.2 1614.8,989.2C1616.4,987.2 1617.2,982.8 1618.4,979.6C1619.6,976.4 1620.4,972.2 1622.0,970.0C1623.6,967.8 1623.0,967.2 1628.0,966.4C1633.0,965.6 1641.8,965.4 1652.0,965.2C1662.2,965.0 1683.2,965.2 1689.5,965.2" fill="none" stroke="#1010d4" stroke-width="3.5" stroke-linejoin="round"/>
<line x1="1031.00" y1="961.50" x2="1689.50" y2="961.50" stroke="#000" stroke-width="2"/>
<line x1="1689.50" y1="961.50" x2="1689.50" y2="1387.60" stroke="#222" stroke-width="1.8"/>
<line x1="1037.00" y1="961.50" x2="1037.00" y2="1388.60" stroke="#000" stroke-width="2"/>
<line x1="1036.00" y1="1387.60" x2="1690.50" y2="1387.60" stroke="#000" stroke-width="2"/>
<line x1="1034.40" y1="965.00" x2="1037.00" y2="965.00" stroke="#222" stroke-width="1.0"/>
<line x1="1034.40" y1="993.05" x2="1037.00" y2="993.05" stroke="#222" stroke-width="1.0"/>
<line x1="1034.40" y1="1021.10" x2="1037.00" y2="1021.10" stroke="#222" stroke-width="1.0"/>
<line x1="1034.40" y1="1049.15" x2="1037.00" y2="1049.15" stroke="#222" stroke-width="1.0"/>
<line x1="1034.40" y1="1077.20" x2="1037.00" y2="1077.20" stroke="#222" stroke-width="1.0"/>
<line x1="1034.40" y1="1105.25" x2="1037.00" y2="1105.25" stroke="#222" stroke-width="1.0"/>
<line x1="1034.40" y1="1133.30" x2="1037.00" y2="1133.30" stroke="#222" stroke-width="1.0"/>
<line x1="1034.40" y1="1161.35" x2="1037.00" y2="1161.35" stroke="#222" stroke-width="1.0"/>
<line x1="1034.40" y1="1189.40" x2="1037.00" y2="1189.40" stroke="#222" stroke-width="1.0"/>
<line x1="1034.40" y1="1217.45" x2="1037.00" y2="1217.45" stroke="#222" stroke-width="1.0"/>
<line x1="1034.40" y1="1245.50" x2="1037.00" y2="1245.50" stroke="#222" stroke-width="1.0"/>
<line x1="1034.40" y1="1273.55" x2="1037.00" y2="1273.55" stroke="#222" stroke-width="1.0"/>
<line x1="1034.40" y1="1301.60" x2="1037.00" y2="1301.60" stroke="#222" stroke-width="1.0"/>
<line x1="1034.40" y1="1329.65" x2="1037.00" y2="1329.65" stroke="#222" stroke-width="1.0"/>
<line x1="1034.40" y1="1357.70" x2="1037.00" y2="1357.70" stroke="#222" stroke-width="1.0"/>
<line x1="1689.00" y1="1387.60" x2="1689.00" y2="1390.40" stroke="#444" stroke-width="1.0"/>
<line x1="1672.02" y1="1387.60" x2="1672.02" y2="1389.40" stroke="#444" stroke-width="1.0"/>
<line x1="1655.04" y1="1387.60" x2="1655.04" y2="1389.40" stroke="#444" stroke-width="1.0"/>
<line x1="1638.06" y1="1387.60" x2="1638.06" y2="1389.40" stroke="#444" stroke-width="1.0"/>
<line x1="1621.08" y1="1387.60" x2="1621.08" y2="1389.40" stroke="#444" stroke-width="1.0"/>
<line x1="1604.10" y1="1387.60" x2="1604.10" y2="1390.40" stroke="#444" stroke-width="1.0"/>
<line x1="1587.12" y1="1387.60" x2="1587.12" y2="1389.40" stroke="#444" stroke-width="1.0"/>
<line x1="1570.14" y1="1387.60" x2="1570.14" y2="1389.40" stroke="#444" stroke-width="1.0"/>
<line x1="1553.16" y1="1387.60" x2="1553.16" y2="1389.40" stroke="#444" stroke-width="1.0"/>
<line x1="1536.18" y1="1387.60" x2="1536.18" y2="1389.40" stroke="#444" stroke-width="1.0"/>
<line x1="1519.20" y1="1387.60" x2="1519.20" y2="1390.40" stroke="#444" stroke-width="1.0"/>
<line x1="1502.22" y1="1387.60" x2="1502.22" y2="1389.40" stroke="#444" stroke-width="1.0"/>
<line x1="1485.24" y1="1387.60" x2="1485.24" y2="1389.40" stroke="#444" stroke-width="1.0"/>
<line x1="1468.26" y1="1387.60" x2="1468.26" y2="1389.40" stroke="#444" stroke-width="1.0"/>
<line x1="1451.28" y1="1387.60" x2="1451.28" y2="1389.40" stroke="#444" stroke-width="1.0"/>
<line x1="1434.30" y1="1387.60" x2="1434.30" y2="1390.40" stroke="#444" stroke-width="1.0"/>
<line x1="1417.32" y1="1387.60" x2="1417.32" y2="1389.40" stroke="#444" stroke-width="1.0"/>
<line x1="1400.34" y1="1387.60" x2="1400.34" y2="1389.40" stroke="#444" stroke-width="1.0"/>
<line x1="1383.36" y1="1387.60" x2="1383.36" y2="1389.40" stroke="#444" stroke-width="1.0"/>
<line x1="1366.38" y1="1387.60" x2="1366.38" y2="1389.40" stroke="#444" stroke-width="1.0"/>
<line x1="1349.40" y1="1387.60" x2="1349.40" y2="1390.40" stroke="#444" stroke-width="1.0"/>
<line x1="1332.42" y1="1387.60" x2="1332.42" y2="1389.40" stroke="#444" stroke-width="1.0"/>
<line x1="1315.44" y1="1387.60" x2="1315.44" y2="1389.40" stroke="#444" stroke-width="1.0"/>
<line x1="1298.46" y1="1387.60" x2="1298.46" y2="1389.40" stroke="#444" stroke-width="1.0"/>
<line x1="1281.48" y1="1387.60" x2="1281.48" y2="1389.40" stroke="#444" stroke-width="1.0"/>
<line x1="1264.50" y1="1387.60" x2="1264.50" y2="1390.40" stroke="#444" stroke-width="1.0"/>
<line x1="1247.52" y1="1387.60" x2="1247.52" y2="1389.40" stroke="#444" stroke-width="1.0"/>
<line x1="1230.54" y1="1387.60" x2="1230.54" y2="1389.40" stroke="#444" stroke-width="1.0"/>
<line x1="1213.56" y1="1387.60" x2="1213.56" y2="1389.40" stroke="#444" stroke-width="1.0"/>
<line x1="1196.58" y1="1387.60" x2="1196.58" y2="1389.40" stroke="#444" stroke-width="1.0"/>
<line x1="1179.60" y1="1387.60" x2="1179.60" y2="1390.40" stroke="#444" stroke-width="1.0"/>
<line x1="1162.62" y1="1387.60" x2="1162.62" y2="1389.40" stroke="#444" stroke-width="1.0"/>
<line x1="1145.64" y1="1387.60" x2="1145.64" y2="1389.40" stroke="#444" stroke-width="1.0"/>
<line x1="1128.66" y1="1387.60" x2="1128.66" y2="1389.40" stroke="#444" stroke-width="1.0"/>
<line x1="1111.68" y1="1387.60" x2="1111.68" y2="1389.40" stroke="#444" stroke-width="1.0"/>
<line x1="1094.70" y1="1387.60" x2="1094.70" y2="1390.40" stroke="#444" stroke-width="1.0"/>
<line x1="1077.72" y1="1387.60" x2="1077.72" y2="1389.40" stroke="#444" stroke-width="1.0"/>
<line x1="1060.74" y1="1387.60" x2="1060.74" y2="1389.40" stroke="#444" stroke-width="1.0"/>
<line x1="1043.76" y1="1387.60" x2="1043.76" y2="1389.40" stroke="#444" stroke-width="1.0"/>
<text transform="translate(993.31,974.10) scale(1.0200,1)" font-size="35.2" fill="#000">0</text>
<text transform="translate(973.38,1026.90) scale(1.0200,1)" font-size="35.2" fill="#000">20</text>
<text transform="translate(973.38,1082.90) scale(1.0200,1)" font-size="35.2" fill="#000">40</text>
<text transform="translate(973.38,1137.90) scale(1.0200,1)" font-size="35.2" fill="#000">60</text>
<text transform="translate(973.38,1195.10) scale(1.0200,1)" font-size="35.2" fill="#000">80</text>
<text transform="translate(961.26,1251.20) scale(1.0200,1)" font-size="35.2" fill="#000">100</text>
<text transform="translate(961.26,1306.80) scale(1.0200,1)" font-size="35.2" fill="#000">120</text>
<text transform="translate(961.26,1363.80) scale(1.0200,1)" font-size="35.2" fill="#000">140</text>
<text transform="translate(1075.31,1428.20) scale(1.0200,1)" font-size="35" fill="#000">70</text>
<text transform="translate(1159.51,1428.20) scale(1.0200,1)" font-size="35" fill="#000">60</text>
<text transform="translate(1244.39,1428.20) scale(1.0200,1)" font-size="35" fill="#000">50</text>
<text transform="translate(1328.35,1428.20) scale(1.0200,1)" font-size="35" fill="#000">40</text>
<text transform="translate(1413.59,1428.20) scale(1.0200,1)" font-size="35" fill="#000">30</text>
<text transform="translate(1497.61,1428.20) scale(1.0200,1)" font-size="35" fill="#000">20</text>
<text transform="translate(1583.26,1428.20) scale(1.0200,1)" font-size="35" fill="#000">10</text>
<text transform="translate(1676.49,1428.20) scale(1.0200,1)" font-size="35" fill="#000">0</text>
<text transform="translate(1322.20,1477.20) scale(1.0201,1)" font-size="35.34" fill="#000">Time (Ma)</text>
<text transform="translate(943.00,1312.90) rotate(-90) scale(1.0200,1)" font-size="35.16" fill="#000">Temperature (</text>
<text transform="translate(941.30,1082.82) rotate(-90) scale(0.8995,1)" font-size="36" fill="#000" stroke="#fff" stroke-width="1.1">C</text>
<circle cx="918" cy="1081.5" r="2.0" fill="none" stroke="#000" stroke-width="0.9"/>
<text transform="translate(943.00,1050.37) rotate(-90) scale(1.0201,1)" font-size="35.82" fill="#000">)</text>
<text transform="translate(1197.08,1145.20) scale(1.0200,1)" font-size="23.66" fill="#e8202a">AHe PRZ</text>
<text transform="translate(1482.54,1278.40) scale(1.0200,1)" font-size="31.91" fill="#000">~9-8 Ma</text>
<rect x="1036.20" y="908.70" width="51.00" height="50.30" fill="#fff" stroke="#231815" stroke-width="2.8"/>
<text transform="translate(1047.24,947.10) scale(1.0199,1)" font-size="38.58" font-weight="bold" fill="#000">D</text>
<text transform="translate(1098.71,946.50) scale(1.0199,1)" font-size="33.05" font-weight="bold" fill="#000">Modeling results of the PC transect</text>
</svg>
</body></html>
